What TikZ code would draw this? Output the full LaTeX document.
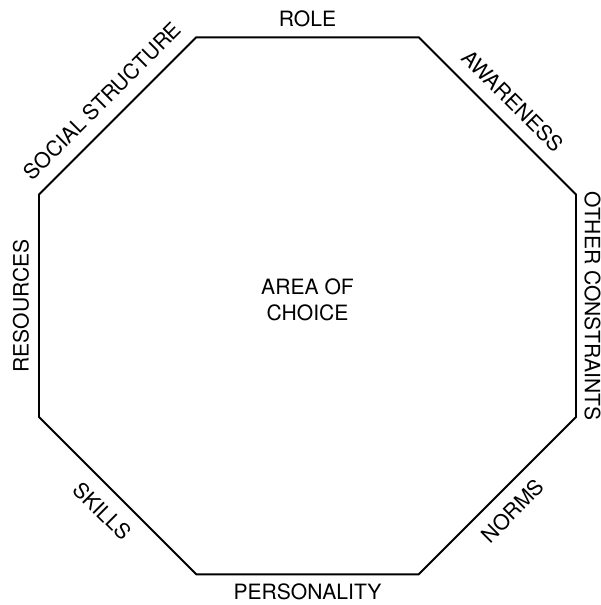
\documentclass[tikz,border=0pt]{standalone}
\usepackage{fontspec}
\setmainfont{TeX Gyre Heros}
\usetikzlibrary{calc}

\begin{document}
\begin{tikzpicture}[line width=1.1pt,
    sidelabel/.style={font=\fontsize{12}{15}\selectfont, inner sep=0pt}]
    \useasboundingbox (0,0) rectangle (12.02,12.1);
    \coordinate (c) at (6.15,5.984);

    % Octagon
    \foreach \k in {0,...,7}
        \coordinate (v\k) at ($(c)+(22.5+45*\k:5.8125)$);
    \draw (v0) -- (v1) -- (v2) -- (v3) -- (v4) -- (v5) -- (v6) -- (v7) -- cycle;

    % Side labels
    \node[sidelabel] (role) at ($(c)+(90:5.73)$) {ROLE};
    \node[sidelabel, rotate=-45] (awareness) at ($(c)+(45:5.80)$) {AWARENESS};
    \node[sidelabel, rotate=-90] (other) at ($(c)+(0:5.70)$) {OTHER CONSTRAINTS};
    \node[sidelabel, rotate=45] (norms) at ($(c)+(-45:5.80)$) {NORMS};
    \node[sidelabel] (personality) at ($(c)+(-90:5.73)$) {PERSONALITY};
    \node[sidelabel, rotate=-45] (skills) at ($(c)+(-135:5.80)$) {SKILLS};
    \node[sidelabel, rotate=90] (resources) at ($(c)+(180:5.73)$) {RESOURCES};
    \node[sidelabel, rotate=45] (social) at ($(c)+(135:5.80)$) {SOCIAL STRUCTURE};

    % Centre
    \node[sidelabel, align=center] (area) at ($(c)+(0,0.12)$) {AREA OF\\CHOICE};
\end{tikzpicture}
\end{document}
